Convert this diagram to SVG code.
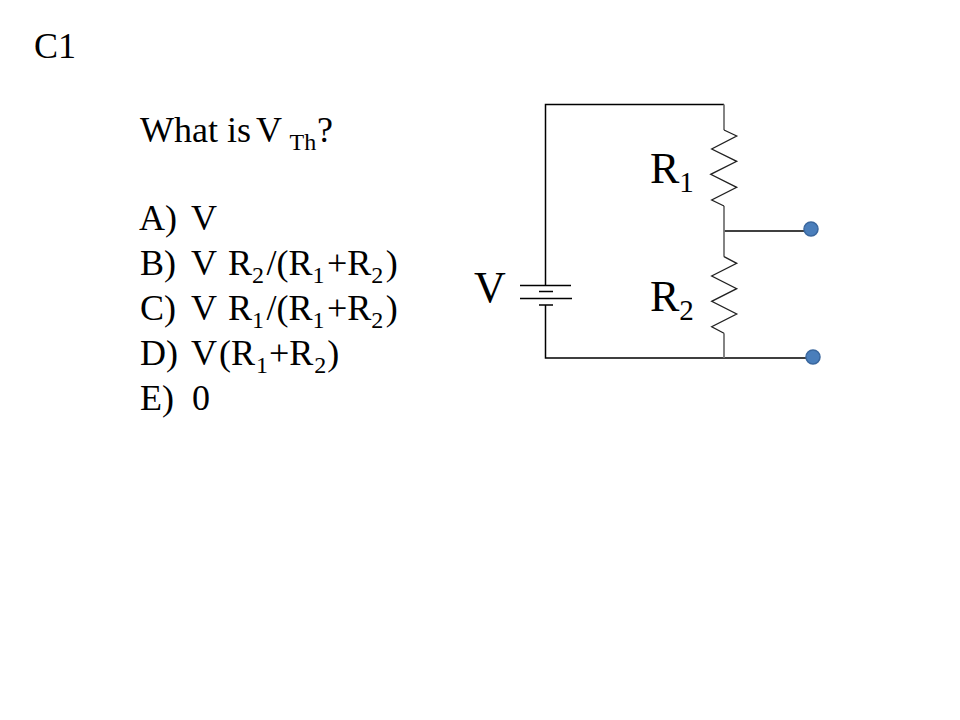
<svg xmlns="http://www.w3.org/2000/svg" width="960" height="720" viewBox="0 0 960 720">
<style>
text{font-family:"Liberation Serif","Times New Roman",serif;fill:#000}
.t{font-size:36px}.s{font-size:24px}.b{font-size:44px}.bs{font-size:29px}
.w{fill:none;stroke:#000;stroke-width:1.5}
.g{fill:none;stroke:#777;stroke-width:1.8}
.z{fill:none;stroke:#222;stroke-width:1.3}
.d{fill:#4a7ebb;stroke:#3a679e;stroke-width:1.5}
</style>
<rect width="960" height="720" fill="#fff"/>
<g id="title"><text class="t" x="34" y="58">C1</text></g>
<g id="question">
<text class="t" x="140" y="142">What is<tspan x="256">V</tspan><tspan class="s" x="289.5" dy="7.5">Th</tspan><tspan x="317" dy="-7.5">?</tspan></text>
<text class="t" x="139" y="230">A)</text><text class="t" x="191" y="230">V</text>
<text class="t" x="140" y="275">B)</text><text class="t" x="191" y="275">V<tspan x="228">R</tspan><tspan class="s" dy="8">2</tspan><tspan dx="2.5" dy="-8">/(R</tspan><tspan class="s" dy="8">1</tspan><tspan dx="2.5" dy="-8">+R</tspan><tspan class="s" dy="8">2</tspan><tspan dx="2.5" dy="-8">)</tspan></text>
<text class="t" x="140" y="320">C)</text><text class="t" x="191" y="320">V<tspan x="228">R</tspan><tspan class="s" dy="8">1</tspan><tspan dx="2.5" dy="-8">/(R</tspan><tspan class="s" dy="8">1</tspan><tspan dx="2.5" dy="-8">+R</tspan><tspan class="s" dy="8">2</tspan><tspan dx="2.5" dy="-8">)</tspan></text>
<text class="t" x="140" y="365">D)</text><text class="t" x="191" y="365">V<tspan dx="2">(R</tspan><tspan class="s" dy="8" dx="1">1</tspan><tspan dx="1" dy="-8">+R</tspan><tspan class="s" dy="8" dx="1">2</tspan><tspan dx="1" dy="-8">)</tspan></text>
<text class="t" x="140" y="410">E)</text><text class="t" x="192" y="410">0</text>
</g>
<g id="connectors">
<path class="w" d="M545.5 285V104.5H724"/>
<path class="w" d="M545.5 305V358H813"/>
<path class="w" d="M724 231H806"/>
<path class="g" d="M724 104.5V130M724 206V256.7M724 333.3V358"/>
</g>
<g id="battery">
<path class="w" d="M520 285.5H571M539 291.5H553M520 298.5H572M539 305H553"/>
<text class="b" x="474" y="302">V</text>
</g>
<g id="r1">
<path class="z" d="M724 130L736.7 136L711.7 149L736.7 161.3L710.7 174.3L736.7 187.3L711.7 200L724 206"/>
<text class="b" x="650" y="183">R<tspan class="bs" dy="9">1</tspan></text>
</g>
<g id="r2">
<path class="z" d="M724 256.7L736.7 263.3L711.7 276L736.7 288.7L711.7 301.3L736.7 314L711.7 326.7L724 333.3"/>
<text class="b" x="650" y="311">R<tspan class="bs" dy="9">2</tspan></text>
</g>
<g id="terminal-top"><circle class="d" cx="811" cy="229" r="7"/></g>
<g id="terminal-bottom"><circle class="d" cx="813" cy="357" r="7"/></g>
</svg>
